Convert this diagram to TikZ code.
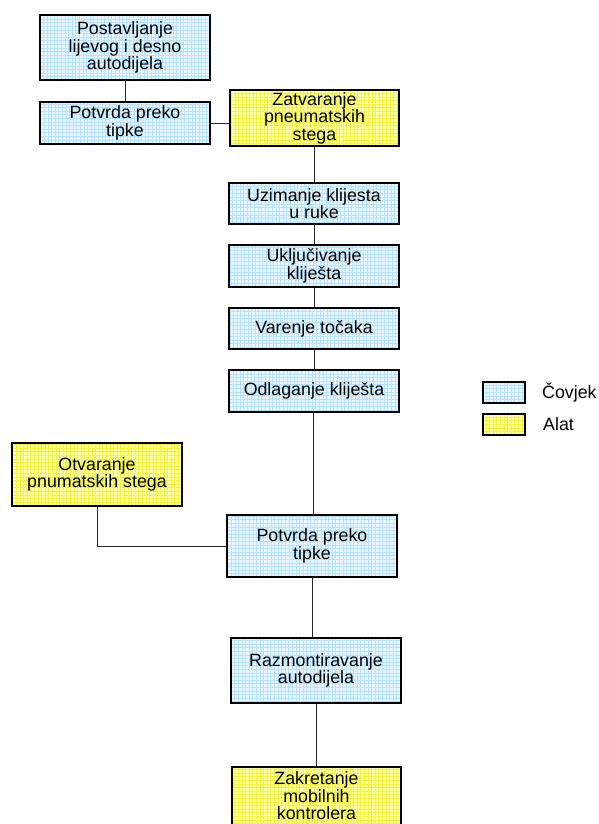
\documentclass[tikz,border=0pt]{standalone}
\usepackage{fontspec}
\setmainfont{Liberation Sans}
\newcommand\boxfont{\fontsize{17.8}{17.6}\selectfont}
\definecolor{bluebase}{HTML}{E8F6FF}
\definecolor{bluegrid}{HTML}{B8E2FA}
\definecolor{yelbase}{HTML}{FFFFA8}
\definecolor{yelgrid}{HTML}{F2F240}
\tikzset{
  basebox/.style={draw=black, line width=2.6pt, align=center, inner sep=0pt, font=\boxfont},
  cbox/.style={basebox, fill=bluebase,
    path picture={\draw[bluegrid, line width=0.9pt] (path picture bounding box.south west) grid[step=3.6pt] (path picture bounding box.north east);}},
  tbox/.style={basebox, fill=yelbase,
    path picture={\draw[yelgrid, line width=0.9pt] (path picture bounding box.south west) grid[step=3.6pt] (path picture bounding box.north east);}},
  conn/.style={draw=black!85, line width=0.9pt},
  lbl/.style={anchor=west, inner sep=0pt, font=\boxfont}
}
\begin{document}
\begin{tikzpicture}[x=1pt,y=-1pt]
\useasboundingbox (0,0) rectangle (599,824);
\node[cbox, minimum width=170pt, minimum height=65pt] (b1) at (125,47.5) {Postavljanje\\lijevog i desno\\autodijela};
\node[cbox, minimum width=170pt, minimum height=42pt] (b2) at (125,123) {Potvrda preko\\tipke};
\node[tbox, minimum width=169pt, minimum height=56pt] (b3) at (314.5,118) {Zatvaranje\\pneumatskih\\stega};
\node[cbox, minimum width=170pt, minimum height=41pt] (b4) at (314,203.5) {Uzimanje klijesta\\u ruke};
\node[cbox, minimum width=170pt, minimum height=42pt] (b5) at (314,266) {Uključivanje\\kliješta};
\node[cbox, minimum width=170pt, minimum height=41pt] (b6) at (314,328.5) {Varenje točaka};
\node[cbox, minimum width=170pt, minimum height=42pt] (b7) at (314,391) {Odlaganje kliješta};
\node[tbox, minimum width=170pt, minimum height=63pt] (b8) at (97,474.5) {Otvaranje\\pnumatskih stega};
\node[cbox, minimum width=170pt, minimum height=62pt] (b9) at (312,546) {Potvrda preko\\tipke};
\node[cbox, minimum width=170pt, minimum height=65pt] (b10) at (316,670.5) {Razmontiravanje\\autodijela};
\node[tbox, minimum width=169pt, minimum height=58pt] (b11) at (316.5,796) {Zakretanje\\mobilnih\\kontrolera};
% legend
\node[cbox, minimum width=42pt, minimum height=21pt] (lc) at (504,392.5) {};
\node[tbox, minimum width=42pt, minimum height=21pt] (lt) at (504,424.5) {};
\node[lbl] (lcl) at (542,392.5) {Čovjek};
\node[lbl] (ltl) at (543,424.5) {Alat};
% connectors
\draw[conn] (b1.south) -- (b2.north);
\draw[conn] (b2.east) -- (b2.east -| b3.west);
\draw[conn] (b3.south) -- (b3.south |- b4.north);
\draw[conn] (b4.south) -- (b5.north);
\draw[conn] (b5.south) -- (b6.north);
\draw[conn] (b6.south) -- (b7.north);
\draw[conn] ([xshift=-1pt]b7.south) -- ([xshift=-1pt]b7.south |- b9.north);
\draw[conn] (b8.south) |- (b9.west);
\draw[conn] (b9.south) -- (b9.south |- b10.north);
\draw[conn] (b10.south) -- (b10.south |- b11.north);
\end{tikzpicture}
\end{document}
